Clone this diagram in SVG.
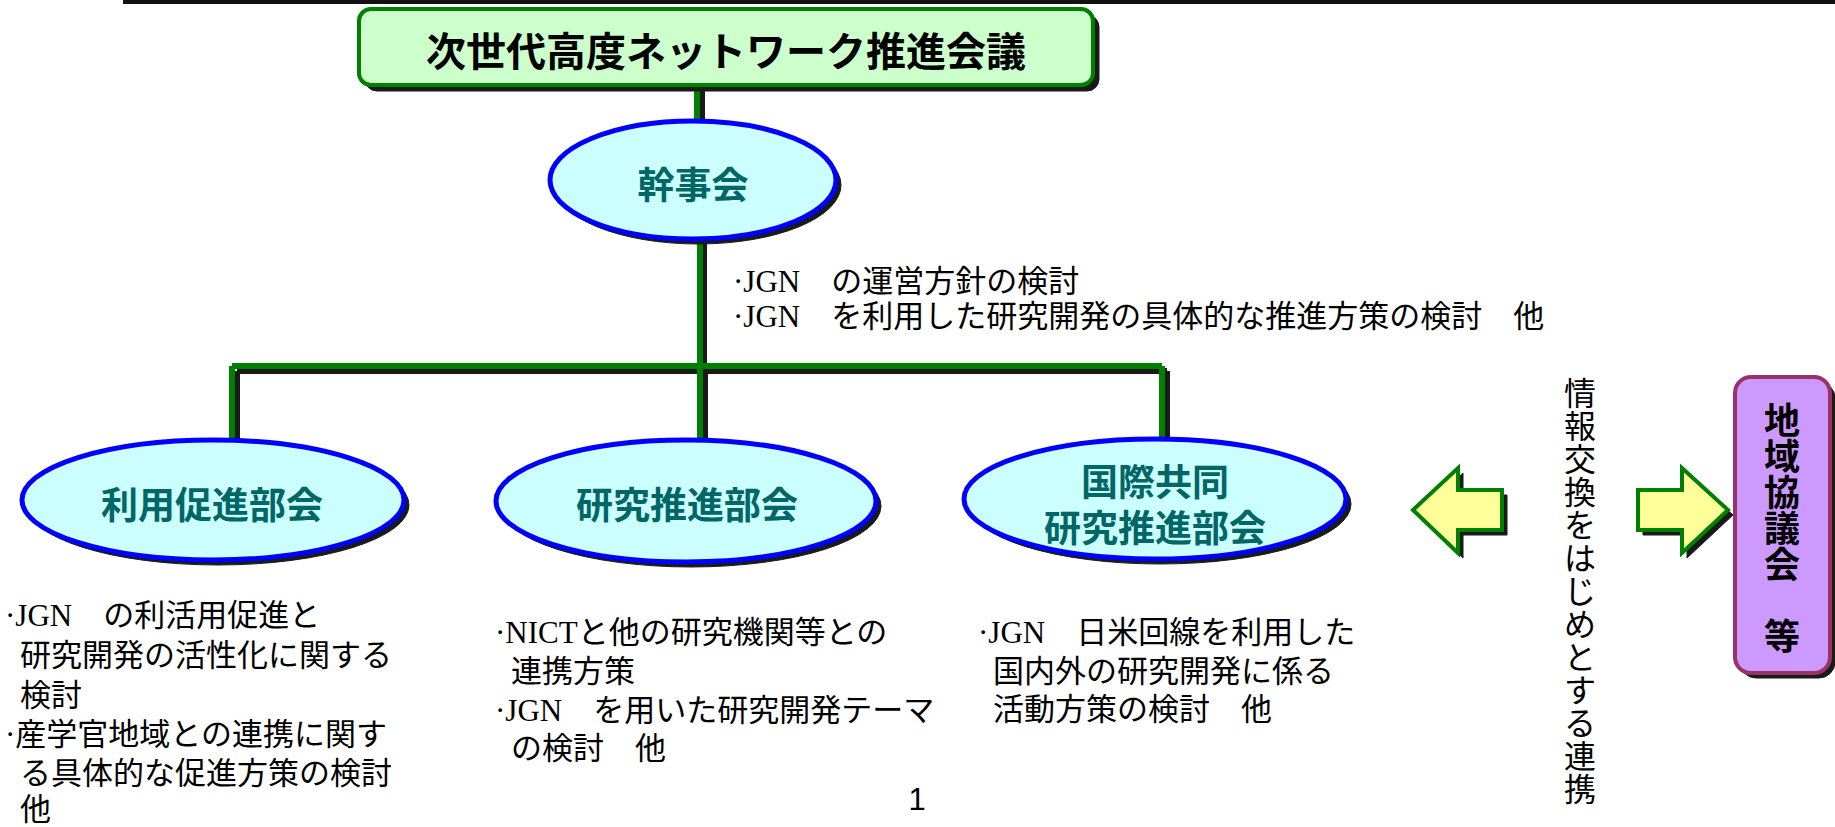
<svg xmlns="http://www.w3.org/2000/svg" width="1835" height="827" viewBox="0 0 1835 827">
<defs>
<style>
.shadow{fill:#1a1a1a;stroke:#1a1a1a}
.ell{fill:#ccffff;stroke:#0000ff;stroke-width:5}
.lbl{font-family:"Noto Sans CJK JP",sans-serif;font-weight:700;font-size:37px;fill:#006666;text-anchor:middle;dominant-baseline:central}
.desc{font-family:"Liberation Serif","Noto Sans CJK JP",serif;font-size:31px;fill:#000;dominant-baseline:central}
.conn{fill:none;stroke:#008000;stroke-width:6}
.connsh{fill:none;stroke:#1a1a1a;stroke-width:6}
.arrow{fill:#ffff99;stroke:#008000;stroke-width:4;stroke-linejoin:miter}
</style>
</defs>
<rect x="123" y="0" width="1712" height="4" fill="#111"/>
<g id="connectors">
<path class="connsh" d="M702 85 V122 M704 240 V371 M237 371 H1167 M237 371 V445 M705 371 V445 M1167 371 V445"/>
<path class="conn" d="M697 85 V120 M700 238 V366 M232 366 H1162 M232 366 V440 M700 366 V440 M1162 366 V440"/>
</g>
<g id="title">
<rect x="365" y="15" width="734" height="76" rx="12" class="shadow"/>
<rect x="359" y="9" width="734" height="76" rx="12" fill="#ccffcc" stroke="#008000" stroke-width="4"/>
<text x="726" y="49" font-family="Noto Sans CJK JP,sans-serif" font-weight="700" font-size="40" text-anchor="middle" dominant-baseline="central" fill="#000">次世代高度ネットワーク推進会議</text>
</g>
<g id="kanjikai">
<ellipse cx="698" cy="185" rx="143" ry="59" class="shadow"/>
<ellipse cx="693" cy="180" rx="143" ry="59" class="ell"/>
<text x="693" y="183" class="lbl">幹事会</text>
</g>
<g id="riyou">
<ellipse cx="218" cy="505" rx="191" ry="60" class="shadow"/>
<ellipse cx="213" cy="500" rx="191" ry="60" class="ell"/>
<text x="212" y="503" class="lbl">利用促進部会</text>
</g>
<g id="kenkyu">
<ellipse cx="691" cy="506" rx="190" ry="61" class="shadow"/>
<ellipse cx="686" cy="501" rx="190" ry="61" class="ell"/>
<text x="687" y="503" class="lbl">研究推進部会</text>
</g>
<g id="kokusai">
<ellipse cx="1160" cy="504" rx="191" ry="60" class="shadow"/>
<ellipse cx="1155" cy="499" rx="191" ry="60" class="ell"/>
<text x="1155" y="480" class="lbl">国際共同</text>
<text x="1155" y="526" class="lbl">研究推進部会</text>
</g>
<g id="desc-kanjikai">
<text x="733" y="281" class="desc">·JGN　の運営方針の検討</text>
<text x="733" y="316" class="desc">·JGN　を利用した研究開発の具体的な推進方策の検討　他</text>
</g>
<g id="desc-riyou">
<text x="5" y="615" class="desc">·JGN　の利活用促進と</text>
<text x="20" y="655" class="desc">研究開発の活性化に関する</text>
<text x="20" y="695" class="desc">検討</text>
<text x="5" y="734" class="desc">·産学官地域との連携に関す</text>
<text x="20" y="773" class="desc">る具体的な促進方策の検討</text>
<text x="20" y="809" class="desc">他</text>
</g>
<g id="desc-kenkyu">
<text x="495" y="632" class="desc">·NICTと他の研究機関等との</text>
<text x="511" y="671" class="desc">連携方策</text>
<text x="495" y="710" class="desc">·JGN　を用いた研究開発テーマ</text>
<text x="511" y="748" class="desc">の検討　他</text>
</g>
<g id="desc-kokusai">
<text x="978" y="632" class="desc">·JGN　日米回線を利用した</text>
<text x="993" y="671" class="desc">国内外の研究開発に係る</text>
<text x="993" y="709" class="desc">活動方策の検討　他</text>
</g>
<text x="917" y="799" font-family="Liberation Sans,sans-serif" font-size="31" text-anchor="middle" dominant-baseline="central" fill="#000">1</text>
<g id="arrow-left">
<polygon points="1418,515 1463,473 1463,495 1507,495 1507,535 1463,535 1463,558" class="shadow"/>
<polygon points="1413,510 1458,468 1458,490 1502,490 1502,530 1458,530 1458,553" class="arrow"/>
</g>
<g id="renkei">
<text font-family="Noto Sans CJK JP,sans-serif" font-size="32" fill="#000" text-anchor="middle" dominant-baseline="central" x="1580 1580 1580 1580 1580 1580 1580 1580 1580 1580 1580 1580 1580" y="391 424 457 490 523 556 589 622 655 688 721 754 787">情報交換をはじめとする連携</text>
</g>
<g id="arrow-right">
<polygon points="1643,495 1687,495 1687,473 1733,515 1687,558 1687,535 1643,535" class="shadow"/>
<polygon points="1638,490 1682,490 1682,468 1728,510 1682,553 1682,530 1638,530" class="arrow"/>
</g>
<g id="chiiki">
<rect x="1740" y="382" width="95" height="296" rx="16" class="shadow"/>
<rect x="1735" y="377" width="95" height="296" rx="16" fill="#cc99ff" stroke="#993366" stroke-width="4"/>
<text font-family="Noto Sans CJK JP,sans-serif" font-weight="700" font-size="36" fill="#000" text-anchor="middle" dominant-baseline="central" x="1782 1782 1782 1782 1782 1782" y="418 454 490 526 562 634">地域協議会等</text>
</g>
</svg>
